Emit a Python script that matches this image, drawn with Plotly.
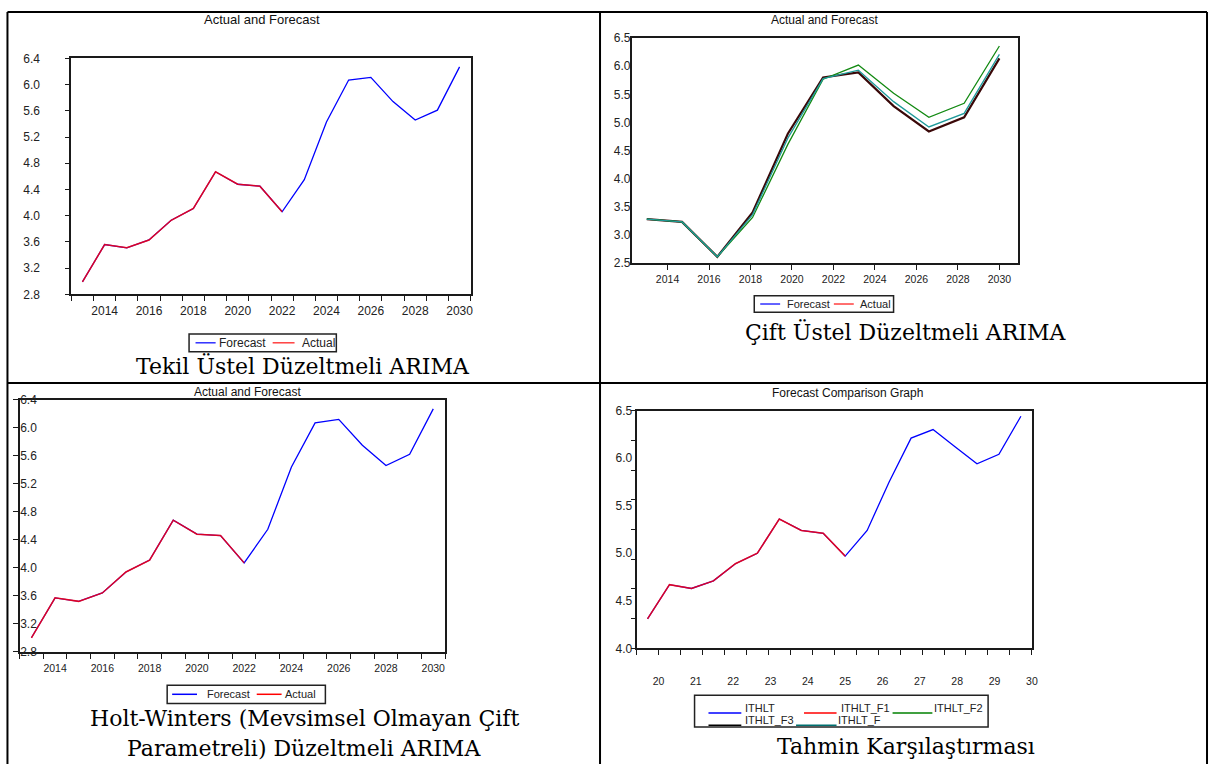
import plotly.graph_objects as go

W, H = 1216, 771

# ---------------- data ----------------
# Panel 1: Tekil Üstel Düzeltmeli ARIMA
p1_years = list(range(2013, 2031))
p1_forecast = [2.99, 3.56, 3.51, 3.63, 3.93, 4.11, 4.67, 4.48, 4.45, 4.06,
               4.55, 5.43, 6.07, 6.11, 5.74, 5.46, 5.61, 6.27]
p1_actual_years = list(range(2013, 2023))
p1_actual = [2.99, 3.56, 3.51, 3.63, 3.93, 4.11, 4.67, 4.48, 4.45, 4.06]
p1_yticks = [2.8, 3.2, 3.6, 4.0, 4.4, 4.8, 5.2, 5.6, 6.0, 6.4]
p1_xticks = [2014, 2016, 2018, 2020, 2022, 2024, 2026, 2028, 2030]

# Panel 2: Çift Üstel Düzeltmeli ARIMA
p2_x = [2013.0, 2014.7, 2016.4, 2018.1, 2019.8, 2021.5, 2023.2, 2024.9, 2026.6, 2028.3, 2030.0]
p2_dark = [3.28, 3.23, 2.61, 3.40, 4.80, 5.80, 5.89, 5.29, 4.84, 5.09, 6.14]
p2_teal = [3.28, 3.23, 2.61, 3.36, 4.72, 5.78, 5.93, 5.37, 4.92, 5.16, 6.21]
p2_green = [3.28, 3.23, 2.61, 3.31, 4.61, 5.77, 6.02, 5.52, 5.09, 5.34, 6.36]
p2_yticks = [2.5, 3.0, 3.5, 4.0, 4.5, 5.0, 5.5, 6.0, 6.5]
p2_xticks = [2014, 2016, 2018, 2020, 2022, 2024, 2026, 2028, 2030]

# Panel 3: Holt-Winters
p3_years = list(range(2013, 2031))
p3_forecast = [3.00, 3.57, 3.52, 3.64, 3.94, 4.11, 4.68, 4.48, 4.46, 4.07,
               4.55, 5.44, 6.07, 6.12, 5.75, 5.46, 5.62, 6.27]
p3_actual_years = list(range(2013, 2023))
p3_actual = [3.00, 3.57, 3.52, 3.64, 3.94, 4.11, 4.68, 4.48, 4.46, 4.07]
p3_yticks = [2.8, 3.2, 3.6, 4.0, 4.4, 4.8, 5.2, 5.6, 6.0, 6.4]
p3_xticks = [2014, 2016, 2018, 2020, 2022, 2024, 2026, 2028, 2030]

# Panel 4: Tahmin Karşılaştırması
p4_years = list(range(2013, 2031))
p4_ithlt = [4.31, 4.67, 4.63, 4.71, 4.89, 5.00, 5.36, 5.24, 5.21, 4.97,
            5.24, 5.75, 6.21, 6.30, 6.12, 5.94, 6.04, 6.44]
p4_f1_years = list(range(2013, 2023))
p4_f1 = [4.31, 4.67, 4.63, 4.71, 4.89, 5.00, 5.36, 5.24, 5.21, 4.97]
p4_yticks = [4.0, 4.5, 5.0, 5.5, 6.0, 6.5]
p4_xtick_pos = [2013.5, 2015.2, 2016.9, 2018.6, 2020.3, 2022.0, 2023.7, 2025.4, 2027.1, 2028.8, 2030.5]
p4_xtick_text = ["20", "21", "22", "23", "24", "25", "26", "27", "28", "29", "30"]

# ---------------- helpers ----------------
def px(x):
    return x / W

def py(y):
    return 1 - y / H

SANS = "Arial, Liberation Sans, sans-serif"
SERIF = "DejaVu Serif, serif"
INK = "#1a1a1a"

BLUE = "#0000FF"
RED = "rgba(255,0,0,0.85)"

fig = go.Figure()

# Panel 1
fig.add_trace(go.Scatter(x=p1_years, y=p1_forecast, mode="lines", name="Forecast",
                         line=dict(color=BLUE, width=1.3), xaxis="x", yaxis="y"))
fig.add_trace(go.Scatter(x=p1_actual_years, y=p1_actual, mode="lines", name="Actual",
                         line=dict(color=RED, width=1.5), xaxis="x", yaxis="y"))
# Panel 2
fig.add_trace(go.Scatter(x=p2_x, y=p2_dark, mode="lines", name="dark",
                         line=dict(color="#3a0808", width=2.2), xaxis="x2", yaxis="y2"))
fig.add_trace(go.Scatter(x=p2_x, y=p2_green, mode="lines", name="green",
                         line=dict(color="#138a13", width=1.3), xaxis="x2", yaxis="y2"))
fig.add_trace(go.Scatter(x=p2_x, y=p2_teal, mode="lines", name="teal",
                         line=dict(color="#1f9a9a", width=1.3), xaxis="x2", yaxis="y2"))
# Panel 3
fig.add_trace(go.Scatter(x=p3_years, y=p3_forecast, mode="lines", name="Forecast",
                         line=dict(color=BLUE, width=1.3), xaxis="x3", yaxis="y3"))
fig.add_trace(go.Scatter(x=p3_actual_years, y=p3_actual, mode="lines", name="Actual",
                         line=dict(color=RED, width=1.5), xaxis="x3", yaxis="y3"))
# Panel 4
fig.add_trace(go.Scatter(x=p4_years, y=p4_ithlt, mode="lines", name="ITHLT",
                         line=dict(color=BLUE, width=1.3), xaxis="x4", yaxis="y4"))
fig.add_trace(go.Scatter(x=p4_f1_years, y=p4_f1, mode="lines", name="ITHLT_F1",
                         line=dict(color=RED, width=1.5), xaxis="x4", yaxis="y4"))


def axis(**kw):
    base = dict(showline=True, linecolor=INK, linewidth=2, mirror=True,
                showgrid=False, zeroline=False, tickcolor=INK, tickwidth=1,
                tickfont=dict(family=SANS, size=12, color="#222"))
    base.update(kw)
    return base

year_minor = dict(tickmode="linear", tick0=2012.5, dtick=1, ticks="outside",
                  ticklen=5, tickcolor=INK, tickwidth=1, showgrid=False)

fig.update_layout(
    xaxis=axis(domain=[px(71.7), px(473)], anchor="y", range=[2012.5, 2030.5],
               tickmode="array", tickvals=p1_xticks, ticktext=[str(v) for v in p1_xticks],
               ticks="", minor=year_minor, ticklabelstandoff=4),
    yaxis=axis(domain=[py(292.7), py(52.3)], anchor="x", range=[2.8, 6.4],
               tickmode="array", tickvals=p1_yticks, ticktext=[f"{v:.1f}" for v in p1_yticks],
               ticks="outside", ticklen=4, ticklabelstandoff=23),
    xaxis2=axis(domain=[px(635), px(1022.7)], anchor="y2", range=[2012.28, 2030.88],
                tickmode="array", tickvals=p2_xticks, ticktext=[str(v) for v in p2_xticks],
                ticks="outside", ticklen=5, tickfont=dict(family=SANS, size=10.5, color="#222")),
    yaxis2=axis(domain=[py(260.7), py(31.7)], anchor="x2", range=[2.5, 6.5],
                tickmode="array", tickvals=p2_yticks, ticktext=[f"{v:.1f}" for v in p2_yticks],
                ticks="", ticklabelstandoff=-3),
    xaxis3=axis(domain=[px(19.7), px(447.3)], anchor="y3", range=[2012.5, 2030.5],
                tickmode="array", tickvals=p3_xticks, ticktext=[str(v) for v in p3_xticks],
                ticks="", minor=year_minor, ticklabelstandoff=6,
                tickfont=dict(family=SANS, size=10.5, color="#222")),
    yaxis3=axis(domain=[py(656.7), py(400)], anchor="x3", range=[2.8, 6.4],
                tickmode="array", tickvals=p3_yticks, ticktext=[f"{v:.1f}" for v in p3_yticks],
                ticks="outside", ticklen=5, ticklabelposition="inside",
                ticklabeloverflow="allow"),
    xaxis4=axis(domain=[px(639.7), px(1037)], anchor="y4", range=[2012.5, 2030.5],
                tickmode="array", tickvals=p4_xtick_pos, ticktext=p4_xtick_text,
                ticks="", minor=year_minor, ticklabelstandoff=22, ticklabeloverflow="allow",
                tickfont=dict(family=SANS, size=10.5, color="#222")),
    yaxis4=axis(domain=[py(653.3), py(411)], anchor="x4", range=[4.0, 6.5],
                tickmode="array", tickvals=p4_yticks, ticktext=[f"{v:.1f}" for v in p4_yticks],
                ticks="",
                minor=dict(tickmode="linear", tick0=4.0, dtick=0.3125, ticks="outside",
                           ticklen=4, tickcolor=INK, tickwidth=1, showgrid=False)),
)

shapes = []
annotations = []

# table borders
for xv in (7.5, 603, 1213):
    shapes.append(dict(type="line", xref="paper", yref="paper", x0=px(xv), x1=px(xv),
                       y0=py(5), y1=py(771), line=dict(color="black", width=2)))
for yv in (5, 383):
    shapes.append(dict(type="line", xref="paper", yref="paper", x0=px(7.5), x1=px(1213),
                       y0=py(yv), y1=py(yv), line=dict(color="black", width=2)))


def text(s, x, y, size, family=SANS, xanchor="center", color="#111"):
    annotations.append(dict(text=s, x=px(x), y=py(y), xref="paper", yref="paper",
                            xanchor=xanchor, yanchor="middle", showarrow=False,
                            font=dict(family=family, size=size, color=color)))


def legend(box, items, size):
    x0, y0, x1, y1 = box
    shapes.append(dict(type="rect", xref="paper", yref="paper", x0=px(x0), x1=px(x1),
                       y0=py(y1), y1=py(y0), line=dict(color="#222", width=1.5),
                       fillcolor="white"))
    for lx0, lx1, ly, color, label, tx, ty in items:
        shapes.append(dict(type="line", xref="paper", yref="paper", x0=px(lx0), x1=px(lx1),
                           y0=py(ly), y1=py(ly), line=dict(color=color, width=1.5)))
        text(label, tx, ty, size, xanchor="left", color="#222")


# titles
text("Actual and Forecast", 263, 13, 13)
text("Actual and Forecast", 829, 13, 12)
text("Actual and Forecast", 249, 392, 12)
text("Forecast Comparison Graph", 852, 393, 12)

# legends
legend((190, 333, 338, 351),
       [(196.5, 216.7, 342, "#3030ff", "Forecast", 218, 342),
        (274, 296, 342, "#ff4040", "Actual", 301.5, 342)], 12)
legend((758, 294, 898, 311),
       [(764, 784, 302.5, "#3030ff", "Forecast", 789, 302.5),
        (838, 858, 302.5, "#ff4040", "Actual", 862, 302.5)], 11)
legend((168, 690.7, 327, 709.3),
       [(173, 198, 700, "#0000ff", "Forecast", 206, 700),
        (258, 283, 700, "#ff0000", "Actual", 284.5, 700)], 11)
legend((698, 701, 993, 733.3),
       [(712, 745, 719, "#0000ff", "ITHLT", 746.5, 714),
        (808, 840.7, 719, "#ff0000", "ITHLT_F1", 843, 714),
        (897, 937, 719, "#008000", "ITHLT_F2", 936.5, 714),
        (712, 745, 731.5, "#000000", "ITHLT_F3", 746.5, 726),
        (800, 840.7, 731.5, "#007070", "ITHLT_F", 840.5, 726)], 11)

# captions
CAP = 22
text("Tekil Üstel Düzeltmeli ARIMA", 305, 366, CAP, family=SERIF, color="#000")
text("Çift Üstel Düzeltmeli ARIMA", 910, 331, CAP, family=SERIF, color="#000")
text("Holt-Winters (Mevsimsel Olmayan Çift", 306, 725, CAP, family=SERIF, color="#000")
text("Parametreli) Düzeltmeli ARIMA", 306, 755, CAP, family=SERIF, color="#000")
text("Tahmin Karşılaştırması", 910, 753, CAP, family=SERIF, color="#000")

fig.update_layout(shapes=shapes, annotations=annotations, showlegend=False,
                  width=W, height=H, autosize=False,
                  margin=dict(l=0, r=0, t=0, b=0),
                  paper_bgcolor="white", plot_bgcolor="white")

fig.write_html("out.html",
               config={"displayModeBar": False},
               post_script="document.body.style.margin='0';document.body.style.padding='0';")
